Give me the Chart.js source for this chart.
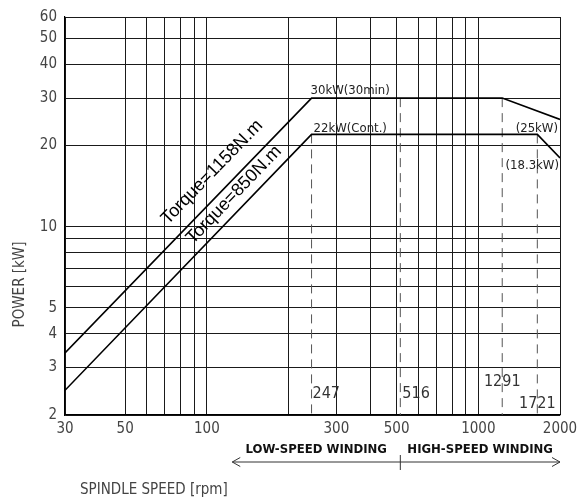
<!DOCTYPE html>
<html>
<head>
<meta charset="utf-8">
<script src="https://cdn.jsdelivr.net/npm/chart.js@4/dist/chart.umd.min.js"></script>
<style>
body{margin:0;background:#fff;}
#wrap{width:580px;height:499px;}
</style>
</head>
<body>
<div id="wrap"><canvas id="powerCanvas" width="580" height="499"></canvas></div>
<script>
// grid / tick values
var speedTicks=[30,50,60,70,80,90,100,200,300,400,500,600,700,800,900,1000,2000];
var speedLabels=[30,50,100,300,500,1000,2000];
var powerTicks=[2,3,4,5,6,7,8,9,10,20,30,40,50,60];
var powerLabels=[2,3,4,5,10,20,30,40,50,60];

// output curves
var speed30min=[30,243,1225,2000];
var power30min=[3.4,30,30,25];
var speedCont=[30,243,1650,2000];
var powerCont=[2.47,22,22,18];

// dashed base speed marks
var markSpeeds=[243,516,1225,1650];
var markPowers=[22,30,30,22];
var markLabels=['247','516','1291','1721'];

// winding ranges
var windingStart=124, windingSwitch=516, windingEnd=2000;

var tickFont="'DejaVu Sans Condensed', 'DejaVu Sans', sans-serif";
var torqueFont="'Liberation Sans', Arial, sans-serif";

function toPoints(xs,ys){
    var pts=[];
    for(var i=0;i<xs.length;i++){
        pts.push({x:xs[i],y:ys[i]});
    }
    return pts;
}

var datasets=[
    {data:toPoints(speed30min,power30min),borderColor:'#000',borderWidth:1.6},
    {data:toPoints(speedCont,powerCont),borderColor:'#000',borderWidth:1.6}
];
for(var i=0;i<markSpeeds.length;i++){
    datasets.push({
        data:[{x:markSpeeds[i],y:markPowers[i]},{x:markSpeeds[i],y:2}],
        borderColor:'#555',borderWidth:1,borderDash:[9,6]
    });
}

var annotate={
    id:'annotate',
    afterDraw:function(chart){
        var ctx=chart.ctx;
        var xs=chart.scales.x, ys=chart.scales.y;
        var px=function(v){return xs.getPixelForValue(v);};
        var py=function(v){return ys.getPixelForValue(v);};
        var bottom=chart.chartArea.bottom;
        ctx.save();
        ctx.fillStyle='#222';
        ctx.font="13px "+tickFont;
        ctx.textBaseline='alphabetic';
        ctx.textAlign='left';
        ctx.fillText('30kW(30min)',px(243)-1,py(30)-4);
        ctx.fillText('22kW(Cont.)',px(243)+2,py(22)-2);
        ctx.textAlign='right';
        ctx.fillText('(25kW)',px(2000)-2,py(22)-2);
        ctx.fillText('(18.3kW)',px(2000)-1,py(18)+11);

        // speed labels near the bottom
        ctx.font="16px "+tickFont;
        ctx.fillStyle='#333';
        ctx.textAlign='left';
        ctx.fillText(markLabels[0],px(markSpeeds[0])+1,bottom-17);
        ctx.fillText(markLabels[1],px(markSpeeds[1])+2,bottom-17);
        ctx.textAlign='center';
        ctx.fillText(markLabels[2],px(markSpeeds[2]),bottom-29);
        ctx.fillText(markLabels[3],px(markSpeeds[3]),bottom-7);

        // torque labels along the rising lines
        ctx.fillStyle='#000';
        ctx.font="18px "+torqueFont;
        ctx.textAlign='center';
        ctx.textBaseline='middle';
        var lines=[[speed30min,power30min,118,20,'Torque=1158N.m'],[speedCont,powerCont,137,14,'Torque=850N.m']];
        for(var k=0;k<lines.length;k++){
            var L=lines[k];
            var x0=px(L[0][0]),y0=py(L[1][0]),x1=px(L[0][1]),y1=py(L[1][1]);
            var ang=Math.atan2(y1-y0,x1-x0);
            var ax=px(L[2]);
            var ay=y0+(ax-x0)*(y1-y0)/(x1-x0);
            ctx.save();
            ctx.translate(ax+Math.sin(ang)*L[3],ay-Math.cos(ang)*L[3]);
            ctx.rotate(ang);
            ctx.fillText(L[4],0,0);
            ctx.restore();
        }

        // winding arrow
        var ay2=bottom+47;
        var xa=px(windingStart),xb=px(windingSwitch),xc=px(windingEnd);
        ctx.strokeStyle='#333';
        ctx.lineWidth=1;
        ctx.beginPath();
        ctx.moveTo(xa,ay2);ctx.lineTo(xc,ay2);
        ctx.moveTo(xa+8,ay2-4.5);ctx.lineTo(xa,ay2);ctx.lineTo(xa+8,ay2+4.5);
        ctx.moveTo(xc-8,ay2-4.5);ctx.lineTo(xc,ay2);ctx.lineTo(xc-8,ay2+4.5);
        ctx.moveTo(xb,ay2-7);ctx.lineTo(xb,ay2+8);
        ctx.stroke();
        ctx.fillStyle='#111';
        ctx.font="bold 13px "+tickFont;
        ctx.textAlign='center';
        ctx.textBaseline='middle';
        ctx.fillText('LOW-SPEED WINDING',(xa+xb)/2,bottom+35);
        ctx.fillText('HIGH-SPEED WINDING',(xb+xc)/2,bottom+35);

        // axis titles
        ctx.fillStyle='#444';
        ctx.font="15px "+tickFont;
        ctx.textAlign='left';
        ctx.fillText('SPINDLE SPEED [rpm]',80,bottom+75);
        ctx.save();
        ctx.translate(20,py(6.1));
        ctx.rotate(-Math.PI/2);
        ctx.textAlign='center';
        ctx.fillText('POWER [kW]',0,0);
        ctx.restore();
        ctx.restore();
    }
};

var ctx1=document.getElementById('powerCanvas').getContext('2d');
window.myChart=new Chart(ctx1,{
    type:'scatter',
    data:{datasets:datasets},
    options:{
        responsive:false,
        animation:false,
        showLine:true,
        elements:{point:{radius:0,hoverRadius:0},line:{tension:0}},
        layout:{padding:{left:0,right:20,top:15,bottom:0}},
        plugins:{legend:{display:false},tooltip:{enabled:false}},
        scales:{
            x:{
                type:'logarithmic',min:30,max:2000,
                afterBuildTicks:function(s){s.ticks=speedTicks.map(function(v){return {value:v};});},
                afterFit:function(s){s.height=84;s.paddingRight=0;},
                grid:{color:'#1a1a1a',lineWidth:1,drawTicks:false},
                border:{color:'#000',width:1.2},
                ticks:{
                    autoSkip:false,maxRotation:0,padding:5,color:'#444',
                    font:{family:tickFont,size:15},
                    callback:function(v){return speedLabels.indexOf(v)>=0?String(v):'';}
                }
            },
            y:{
                type:'logarithmic',min:2,max:60,
                afterBuildTicks:function(s){s.ticks=powerTicks.map(function(v){return {value:v};});},
                afterFit:function(s){s.width=65;},
                grid:{color:'#1a1a1a',lineWidth:1,drawTicks:false},
                border:{color:'#000',width:1.2},
                ticks:{
                    autoSkip:false,padding:8,color:'#444',
                    font:{family:tickFont,size:15},
                    callback:function(v){return powerLabels.indexOf(v)>=0?String(v):'';}
                }
            }
        }
    },
    plugins:[annotate]
});
</script>
</body>
</html>
